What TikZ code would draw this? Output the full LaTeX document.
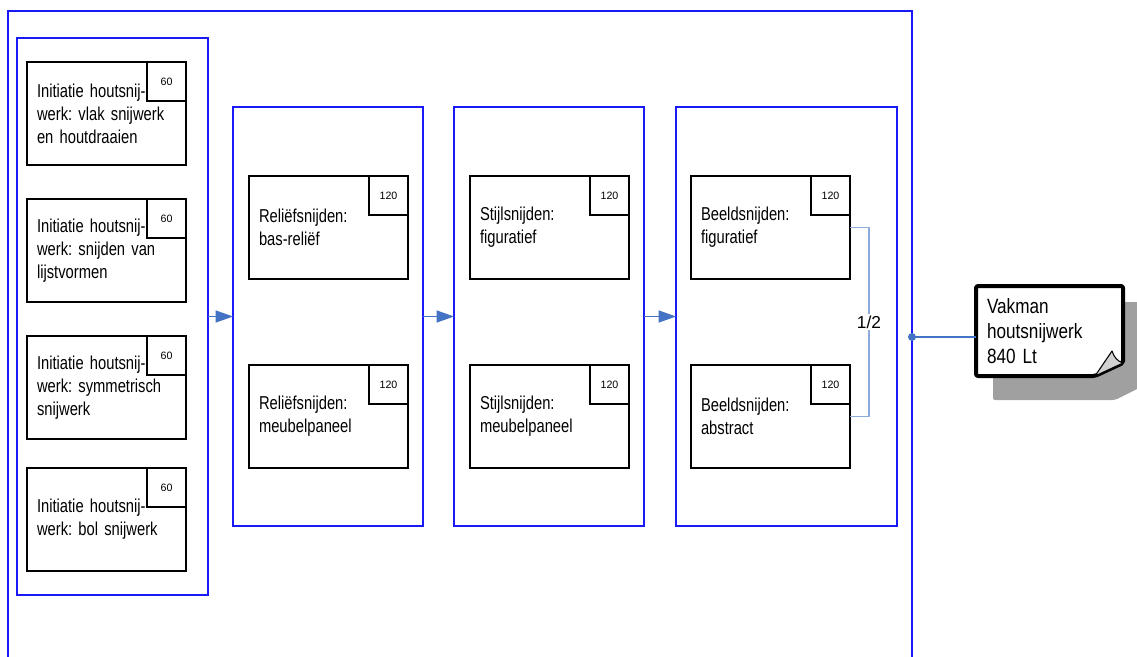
\documentclass[tikz,border=0pt]{standalone}
\usepackage{fontspec}
\setmainfont{Liberation Sans}
\newfontfamily\narrowfont[FakeStretch=0.79]{Liberation Sans}
\newfontfamily\notefont[FakeStretch=0.83]{Liberation Sans}
\newcommand\unittextfont{\narrowfont\fontsize{14}{17.25}\selectfont\spaceskip=2.7pt\relax}
\newcommand\notetextfont{\notefont\fontsize{15.5}{18.75}\selectfont\spaceskip=3.3pt\relax}
\usetikzlibrary{arrows.meta,calc}
\definecolor{frameblue}{RGB}{25,25,250}
\definecolor{arrblue}{RGB}{68,114,196}
\definecolor{brkblue}{RGB}{142,169,219}
\definecolor{shadowgray}{RGB}{160,160,160}
\definecolor{foldgray}{RGB}{210,210,210}
\frenchspacing
\begin{document}
\begin{tikzpicture}[x=0.75pt,y=-0.75pt,
  frame/.style={draw=frameblue,line width=1.1pt,rectangle,inner sep=0pt,outer sep=0pt,anchor=north west},
  unit/.style={draw=black,line width=0.9pt,rectangle,anchor=north west,outer sep=0pt,
    minimum width=119.25pt,minimum height=77.25pt,text width=104.25pt,
    inner xsep=7.5pt,inner ysep=0pt,align=left,font=\unittextfont},
  hours/.style={draw=black,line width=0.9pt,rectangle,anchor=north east,outer sep=0pt,
    minimum size=29.25pt,inner sep=0pt,font=\fontsize{8}{9}\selectfont},
  flow/.style={draw=arrblue,line width=0.8pt,-{Triangle[length=13pt,width=9pt]}},
  brk/.style={draw=brkblue,line width=0.8pt},
  halflbl/.style={fill=white,inner sep=1.5pt,font=\fontsize{13}{15}\selectfont},
  notetext/.style={rectangle,minimum width=110.25pt,minimum height=67.5pt,text width=93.75pt,
    inner xsep=8.25pt,inner ysep=0pt,align=left,font=\notetextfont},
  noteline/.style={draw=black,line width=3pt,fill=white,rounded corners=1.5pt,line join=round}
]
\useasboundingbox (0,0) rectangle (1137,656);

% frames
\node[frame,minimum width=678pt,minimum height=489pt] (outer) at (8,11) {};
\node[frame,minimum width=143.25pt,minimum height=417.75pt] (c1) at (17,38) {};
\node[frame,minimum width=142.5pt,minimum height=314.25pt] (c2) at (233,107) {};
\node[frame,minimum width=142.5pt,minimum height=314.25pt] (c3) at (454,107) {};
\node[frame,minimum width=165.75pt,minimum height=314.25pt] (c4) at (676,107) {};

% column 1
\node[unit] (b11) at (27,62) {Initiatie houtsnij-\\werk: vlak snijwerk\\en houtdraaien};
\node[unit] (b12) at (27,199) {Initiatie houtsnij-\\werk: snijden van\\lijstvormen};
\node[unit] (b13) at (27,336) {Initiatie houtsnij-\\werk: symmetrisch\\snijwerk};
\node[unit] (b14) at (27,468) {Initiatie houtsnij-\\werk: bol snijwerk};
\node[hours] (h11) at (b11.north east) {60};
\node[hours] (h12) at (b12.north east) {60};
\node[hours] (h13) at (b13.north east) {60};
\node[hours] (h14) at (b14.north east) {60};

% column 2
\node[unit] (b21) at (249,176) {Reliëfsnijden:\\bas-reliëf};
\node[unit] (b22) at (249,365) {Reliëfsnijden:\\meubelpaneel};
\node[hours] (h21) at (b21.north east) {120};
\node[hours] (h22) at (b22.north east) {120};

% column 3
\node[unit] (b31) at (470,176) {Stijlsnijden:\\figuratief};
\node[unit] (b32) at (470,365) {Stijlsnijden:\\meubelpaneel};
\node[hours] (h31) at (b31.north east) {120};
\node[hours] (h32) at (b32.north east) {120};

% column 4
\node[unit] (b41) at (691,176) {Beeldsnijden:\\figuratief};
\node[unit] (b42) at (691,365) {Beeldsnijden:\\abstract};
\node[hours] (h41) at (b41.north east) {120};
\node[hours] (h42) at (b42.north east) {120};

% flow arrows
\draw[flow] (c1.east) -- (c2.west);
\draw[flow] (c2.east) -- (c3.west);
\draw[flow] (c3.east) -- (c4.west);

% bracket 1/2
\draw[brk] (b41.east) -- ++(19,0) coordinate (bt) |- (b42.east);
\node[halflbl] (half) at ($(bt)!0.5!(bt |- b42.east)$) {1/2};

% note with shadow
\fill[shadowgray,rounded corners=1.5pt] (993,302) -- (1145,302) -- (1145,385) -- (1115,400) -- (993,400) -- cycle;
\path[noteline] (976,286) -- (1123,286) -- (1123,363) -- (1095,376) -- (976,376) -- cycle;
\draw[fill=foldgray,line width=0.8pt,line join=round] (1095,376) -- (1112,351)
  .. controls (1114,357) and (1117,361) .. (1123,363) -- cycle;
\node[notetext] (note) at (1049.5,331) {Vakman\\houtsnijwerk\\840 Lt};

% connector to result
\draw[draw=arrblue,line width=0.8pt] (outer.east) -- (outer.east -| note.west);
\fill[arrblue] (outer.east) circle (3pt);
\end{tikzpicture}
\end{document}
